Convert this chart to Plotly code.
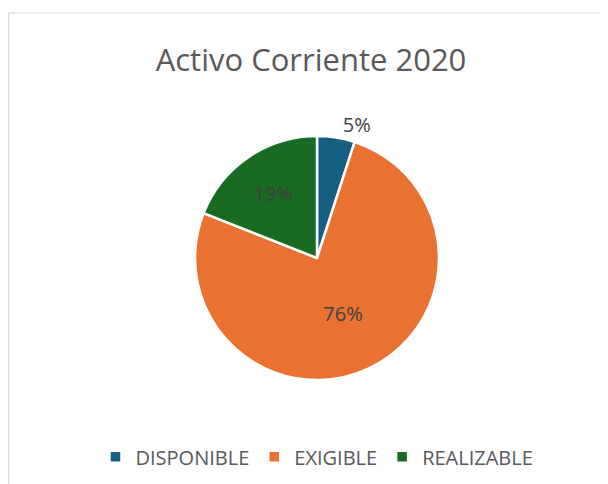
"""Pie chart: Activo Corriente 2020."""

import plotly.graph_objects as go

# Data
categories = ["DISPONIBLE", "EXIGIBLE", "REALIZABLE"]
values = [5, 76, 19]
colors = ["#156082", "#E97132", "#196B24"]
text_positions = ["outside", "inside", "inside"]

fig = go.Figure()

fig.add_trace(go.Pie(
    labels=categories,
    values=values,
    sort=False,
    direction="clockwise",
    rotation=0,
    marker=dict(colors=colors, line=dict(color="white", width=2.5)),
    textinfo="percent",
    texttemplate="%{percent:.0%}",
    textposition=text_positions,
    insidetextorientation="horizontal",
    textfont=dict(family="Open Sans", size=20, color="#404040"),
    domain=dict(x=[0.3117, 0.7183], y=[0.2185, 0.7311]),
    hoverinfo="label+value+percent",
))

# Chart frame (only top/left edges visible in the crop)
fig.add_shape(
    type="rect", xref="paper", yref="paper",
    x0=0.001, x1=1.05, y0=-0.05, y1=0.9895,
    line=dict(color="#D9D9D9", width=1.2),
    fillcolor="rgba(0,0,0,0)",
)

fig.update_layout(
    title=dict(
        text="Activo Corriente 2020",
        x=0.505, xanchor="center",
        y=0.891, yanchor="middle",
        font=dict(family="Open Sans", size=31, color="#595959"),
    ),
    legend=dict(
        orientation="h",
        x=0.515, xanchor="center",
        y=0.057, yanchor="middle",
        font=dict(family="Open Sans", size=20, color="#595959"),
        itemwidth=30,
        traceorder="normal",
    ),
    width=600,
    height=476,
    margin=dict(l=0, r=0, t=0, b=0),
    paper_bgcolor="white",
    plot_bgcolor="white",
)

fig.write_html("out.html")
